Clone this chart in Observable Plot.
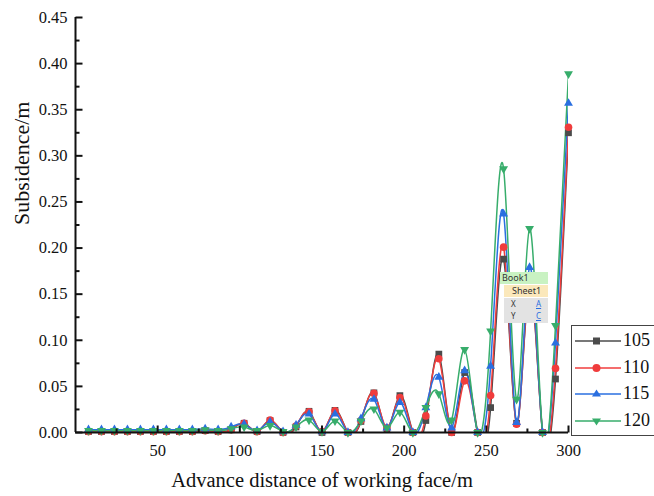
<!DOCTYPE html>
<html><head><meta charset="utf-8">
<script src="https://cdn.jsdelivr.net/npm/d3@7"></script>
<script src="https://cdn.jsdelivr.net/npm/@observablehq/plot@0.6"></script>
<style>
body{margin:0;background:#fff;}
#wrap{position:relative;width:654px;height:496px;overflow:hidden;background:#fff;}
#legend{position:absolute;left:571px;top:325px;width:100px;height:111px;border:1px solid #444;background:#fff;box-sizing:border-box;}
.lg{position:absolute;left:0;height:20px;}
.lg span{position:absolute;left:51px;top:-1px;font:18px 'Liberation Serif','Times New Roman',serif;color:#111;}
#tip{position:absolute;left:500px;top:272px;width:48px;height:51px;background:#fff;font:9px 'Noto Sans','DejaVu Sans',sans-serif;color:#333;}
#tip .b{position:absolute;left:0;top:0;width:48px;height:12px;background:#c9f2c2;padding-left:2px;box-sizing:border-box;line-height:12px;}
#tip .s{position:absolute;left:4px;top:13px;width:44px;height:12px;background:#fbe8bb;padding-left:8px;box-sizing:border-box;line-height:12px;}
#tip .g{position:absolute;left:4px;top:26px;width:44px;height:25px;background:#e3e3e3;font-size:8px;}
#tip .g span{position:absolute;line-height:10px;}
#tip .g u{position:absolute;line-height:10px;color:#2a6fe0;}
</style></head><body><div id="wrap"></div>
<script>
// Advance distance (m) of each measuring point
const distance = [7.9,15.8,23.7,31.6,39.5,47.4,55.3,63.2,71.1,78.9,86.8,94.7,102.6,110.5,118.4,126.3,134.2,142.1,150.0,157.9,165.8,173.7,181.6,189.5,197.4,205.3,213.2,221.1,228.9,236.8,244.7,252.6,260.5,268.4,276.3,284.2,292.1,300.0];
// Subsidence (m) for each series
const s105 = [0.001,0.001,0.001,0.001,0.001,0.001,0.001,0.001,0.001,0.002,0.001,0.003,0.010,0.001,0.013,0.000,0.006,0.023,0.000,0.024,0.000,0.012,0.043,0.004,0.040,0.000,0.013,0.085,0.000,0.065,0.000,0.027,0.188,0.010,0.160,0.000,0.058,0.325];
const s110 = [0.001,0.001,0.001,0.001,0.001,0.001,0.001,0.001,0.001,0.002,0.001,0.003,0.010,0.001,0.0135,0.000,0.007,0.0225,0.001,0.0235,0.000,0.013,0.0425,0.005,0.038,0.000,0.018,0.080,0.000,0.056,0.000,0.040,0.201,0.009,0.165,0.000,0.0695,0.331];
const s115 = [0.003,0.003,0.003,0.003,0.003,0.003,0.003,0.003,0.003,0.004,0.003,0.006,0.009,0.002,0.0115,0.001,0.008,0.020,0.001,0.020,0.000,0.015,0.036,0.005,0.0325,0.000,0.027,0.060,0.005,0.067,0.000,0.072,0.237,0.011,0.179,0.000,0.097,0.357];
const s120 = [0.002,0.002,0.002,0.002,0.002,0.002,0.002,0.002,0.002,0.003,0.002,0.004,0.006,0.002,0.0075,0.001,0.006,0.0135,0.001,0.0125,0.000,0.0125,0.0255,0.005,0.022,0.000,0.027,0.042,0.0135,0.090,0.000,0.110,0.286,0.036,0.221,0.000,0.116,0.389];
const seriesNames = ["105","110","115","120"];
const seriesColors = ["#4b4b4b","#f03c3c","#2a6fe0","#37ad6b"];
const yTicks = [0,0.05,0.10,0.15,0.20,0.25,0.30,0.35,0.40,0.45];
const yMinor = [0.025,0.075,0.125,0.175,0.225,0.275,0.325,0.375,0.425];
const xTicks = [50,100,150,200,250,300];
const xMinor = [25,75,125,175,225,275];
const xTitle = "Advance distance of working face/m";
const yTitle = "Subsidence/m";

const S3 = Math.sqrt(3);
const triDown = {draw(ctx, size){const y = Math.sqrt(size/(S3*3)); ctx.moveTo(0, 2*y); ctx.lineTo(-S3*y, -y); ctx.lineTo(S3*y, -y); ctx.closePath();}};
const symbols = ["square","circle","triangle",triDown];
const tickRight = len => ({draw(ctx){ctx.moveTo(0,0); ctx.lineTo(len,0);}});
const tickUp = len => ({draw(ctx){ctx.moveTo(0,0); ctx.lineTo(0,-len);}});

const allSeries = [s105,s110,s115,s120];
const marks = [];
allSeries.forEach((vals, si) => {
  const rows = distance.map((x, i) => ({x, y: vals[i]}));
  marks.push(Plot.line(rows, {x: "x", y: "y", stroke: seriesColors[si], strokeWidth: 1.5, curve: "natural", clip: true}));
});
allSeries.forEach((vals, si) => {
  const rows = distance.map((x, i) => ({x, y: vals[i]}));
  marks.push(Plot.dot(rows, {x: "x", y: "y", symbol: symbols[si], fill: seriesColors[si], stroke: "none", r: si >= 2 ? 3.3 : 3.8}));
});
marks.push(Plot.ruleX([0], {stroke: "#111", strokeWidth: 2}));
marks.push(Plot.ruleY([0], {stroke: "#111", strokeWidth: 2}));
marks.push(Plot.dot(yTicks, {y: d => d, frameAnchor: "left", symbol: tickRight(7), stroke: "#111", strokeWidth: 2, fill: "none"}));
marks.push(Plot.dot(yMinor, {y: d => d, frameAnchor: "left", symbol: tickRight(4), stroke: "#111", strokeWidth: 2, fill: "none"}));
marks.push(Plot.dot(xTicks, {x: d => d, frameAnchor: "bottom", symbol: tickUp(7), stroke: "#111", strokeWidth: 2, fill: "none"}));
marks.push(Plot.dot(xMinor, {x: d => d, frameAnchor: "bottom", symbol: tickUp(4), stroke: "#111", strokeWidth: 2, fill: "none"}));
marks.push(Plot.text([xTitle], {text: d => d, frameAnchor: "bottom", lineAnchor: "bottom", dy: 54, fontSize: 20.5, fill: "#111"}));
marks.push(Plot.text([yTitle], {text: d => d, frameAnchor: "left", lineAnchor: "bottom", rotate: -90, dx: -47, fontSize: 22, fill: "#111"}));

const chart = Plot.plot({
  width: 654, height: 496,
  marginLeft: 75, marginRight: 86, marginTop: 17, marginBottom: 64,
  style: {background: "transparent", fontFamily: "'Liberation Serif','Times New Roman',serif", fontSize: "16.5px", color: "#111"},
  x: {domain: [0, 300], ticks: xTicks, tickSize: 0, tickPadding: 12, label: null},
  y: {domain: [0, 0.45], ticks: yTicks, tickSize: 0, tickPadding: 8, tickFormat: d3.format(".2f"), label: null},
  marks
});
const wrap = document.getElementById("wrap");
wrap.appendChild(chart);

// legend
const lg = document.createElement("div");
lg.id = "legend";
const shapeSvg = (si, c) => {
  if (si === 0) return `<rect x="18" y="6.5" width="7" height="7" fill="${c}"/>`;
  if (si === 1) return `<circle cx="21.5" cy="10" r="4" fill="${c}"/>`;
  if (si === 2) return `<path d="M21.5,5.5 L26,12.5 L17,12.5Z" fill="${c}"/>`;
  return `<path d="M21.5,14.5 L26,7.5 L17,7.5Z" fill="${c}"/>`;
};
seriesNames.forEach((n, si) => {
  const e = document.createElement("div");
  e.className = "lg";
  e.style.top = (5 + si * 26.7) + "px";
  e.innerHTML = `<svg width="50" height="20" style="position:absolute;left:3px;top:0"><line x1="0" y1="10" x2="46" y2="10" stroke="${seriesColors[si]}" stroke-width="1.5"/>${shapeSvg(si, seriesColors[si])}</svg><span>${n}</span>`;
  lg.appendChild(e);
});
wrap.appendChild(lg);

// Origin data tooltip present in the screenshot
const tip = document.createElement("div");
tip.id = "tip";
tip.innerHTML = `<div class="b">Book1</div><div class="s">Sheet1</div><div class="g"><span style="left:7px;top:1px">X</span><u style="left:32px;top:1px">A</u><span style="left:7px;top:13px">Y</span><u style="left:32px;top:13px">C</u></div>`;
wrap.appendChild(tip);
</script></body></html>
